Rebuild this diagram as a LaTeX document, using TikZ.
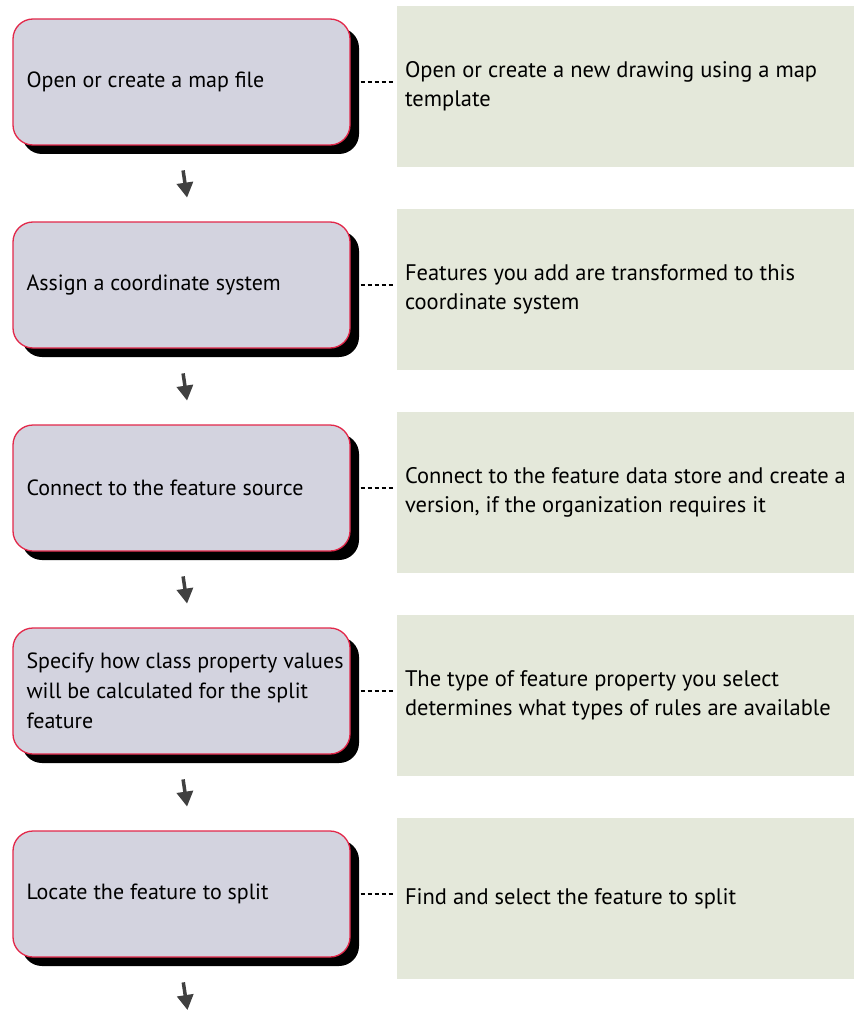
\documentclass[tikz,border=0pt]{standalone}
\usepackage{fontspec}
\setmainfont{PT Sans}
\usetikzlibrary{shadows,arrows.meta}

\definecolor{stepfill}{HTML}{D3D3DF}
\definecolor{stepborder}{HTML}{E2284A}
\definecolor{notefill}{HTML}{E4E8DA}
\definecolor{arrowgray}{HTML}{404040}

\tikzset{
  stepbox/.style={draw=stepborder, line width=1.3pt, fill=stepfill,
    rounded corners=20pt, minimum width=337pt, minimum height=126pt,
    inner sep=0pt,
    drop shadow={shadow xshift=9pt, shadow yshift=-9pt, opacity=1, fill=black}},
  steptext/.style={anchor=west, inner sep=0pt, align=left,
    font=\fontsize{22}{30}\selectfont, text=black},
  notebox/.style={fill=notefill, draw=none, minimum width=457pt,
    minimum height=161pt, inner sep=0pt},
  notetext/.style={anchor=west, inner sep=0pt, align=left,
    font=\fontsize{22.5}{29}\selectfont, text=black},
  linkdash/.style={draw=black, line width=1.2pt, dash pattern=on 4.5pt off 2.5pt,
    shorten <=10pt, shorten >=3pt},
  flowarrow/.style={draw=arrowgray, line width=3.5pt,
    -{Triangle[width=16pt,length=15pt]}, shorten <=25pt, shorten >=24pt}
}

\begin{document}
\begin{tikzpicture}[x=1pt,y=-1pt]
\useasboundingbox (0,0) rectangle (854,1011);

% process steps (left column)
\node[stepbox] (b1) at (181.5, 82) {};
\node[stepbox] (b2) at (181.5,285) {};
\node[stepbox] (b3) at (181.5,488) {};
\node[stepbox] (b4) at (181.5,691) {};
\node[stepbox] (b5) at (181.5,894) {};

\node[steptext] (t1) at ([xshift=14pt]b1.west) {Open or create a map file};
\node[steptext] (t2) at ([xshift=14pt]b2.west) {Assign a coordinate system};
\node[steptext] (t3) at ([xshift=14pt]b3.west) {Connect to the feature source};
\node[steptext] (t4) at ([xshift=14pt]b4.west) {Specify how class property values\\will be calculated for the split\\feature};
\node[steptext] (t5) at ([xshift=14pt]b5.west) {Locate the feature to split};

% explanations (right column)
\node[notebox] (n1) at (625.5, 86.5) {};
\node[notebox] (n2) at (625.5,289.5) {};
\node[notebox] (n3) at (625.5,492.5) {};
\node[notebox] (n4) at (625.5,695.5) {};
\node[notebox] (n5) at (625.5,898.5) {};

\node[notetext] (d1) at ([xshift=8pt]n1.west) {Open or create a new drawing using a map\\template};
\node[notetext] (d2) at ([xshift=8pt]n2.west) {Features you add are transformed to this\\coordinate system};
\node[notetext] (d3) at ([xshift=8pt]n3.west) {Connect to the feature data store and create a\\version, if the organization requires it};
\node[notetext] (d4) at ([xshift=8pt]n4.west) {The type of feature property you select\\determines what types of rules are available};
\node[notetext] (d5) at ([xshift=8pt]n5.west) {Find and select the feature to split};

% dashed links from each step to its explanation
\draw[linkdash] (b1.east) -- (b1.east -| n1.west);
\draw[linkdash] (b2.east) -- (b2.east -| n2.west);
\draw[linkdash] (b3.east) -- (b3.east -| n3.west);
\draw[linkdash] (b4.east) -- (b4.east -| n4.west);
\draw[linkdash] (b5.east) -- (b5.east -| n5.west);

% flow arrows between steps
\draw[flowarrow] ([xshift=-2pt]b1.south) -- ([xshift=9pt]b2.north);
\draw[flowarrow] ([xshift=-2pt]b2.south) -- ([xshift=9pt]b3.north);
\draw[flowarrow] ([xshift=-2pt]b3.south) -- ([xshift=9pt]b4.north);
\draw[flowarrow] ([xshift=-2pt]b4.south) -- ([xshift=9pt]b5.north);
\coordinate (flowend) at (187.5,1010);
\draw[flowarrow, shorten >=0pt] ([xshift=-2pt]b5.south) -- (flowend);
\end{tikzpicture}
\end{document}
